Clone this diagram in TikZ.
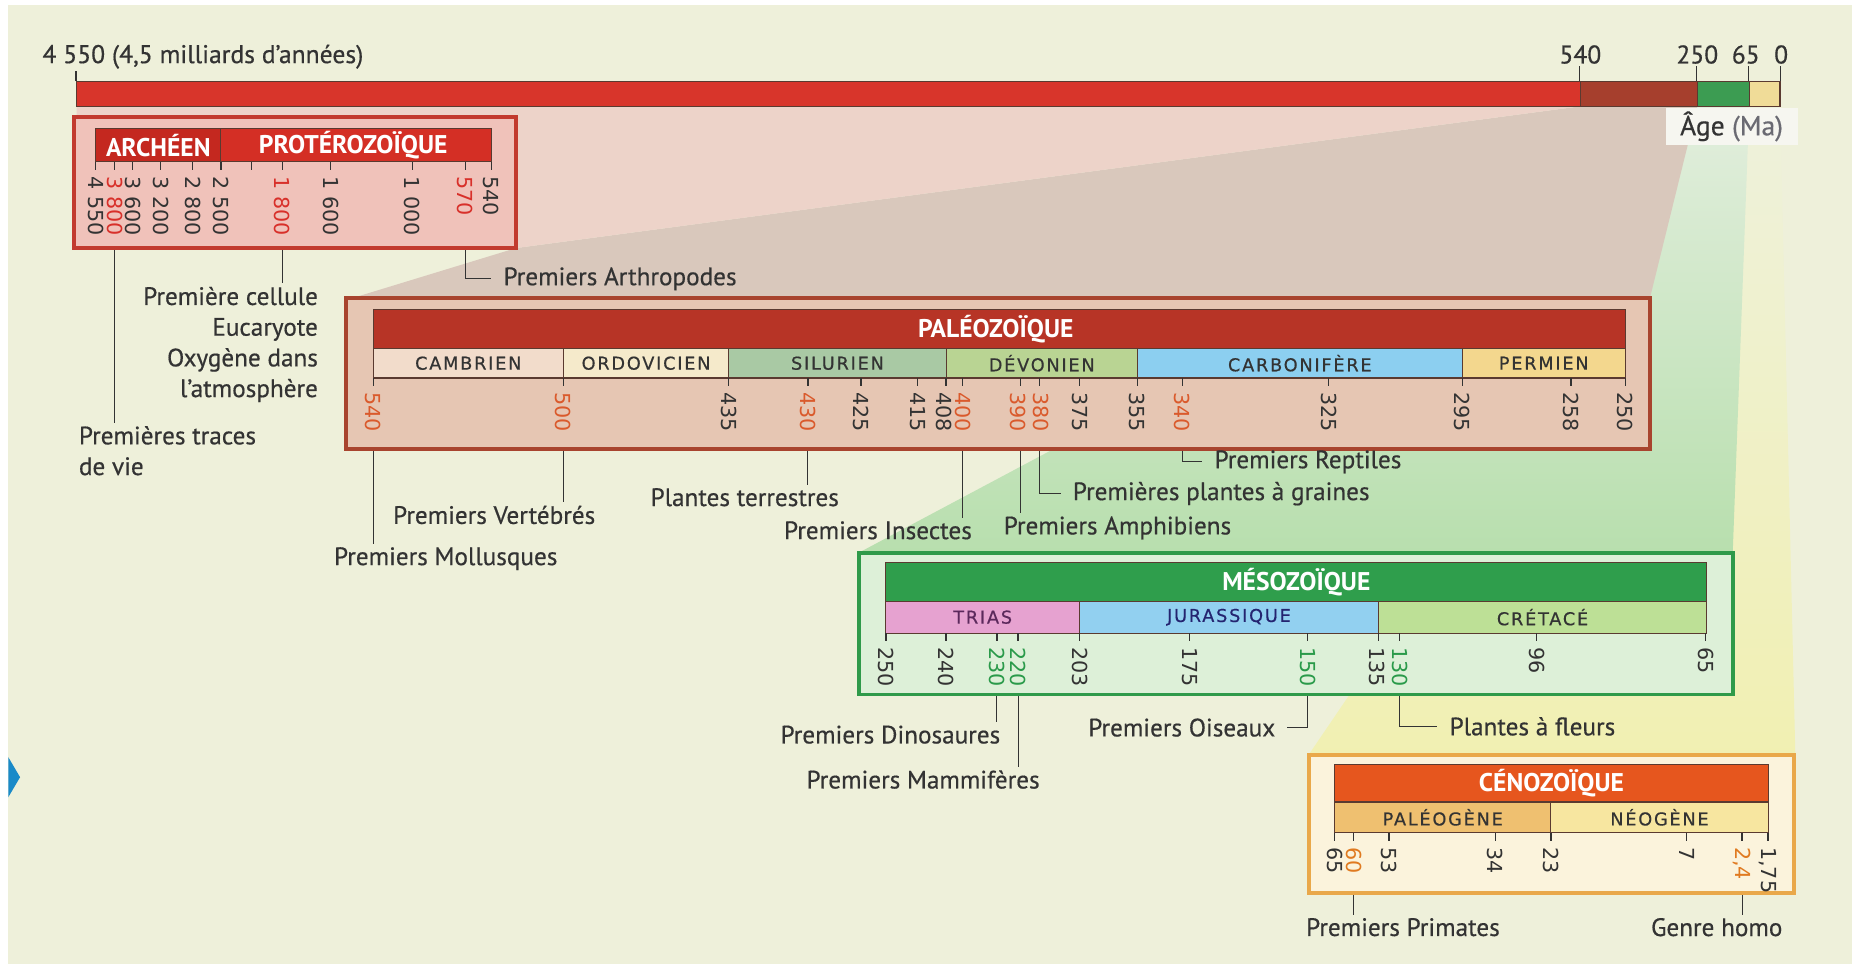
\documentclass[tikz,border=0pt]{standalone}
\usepackage{fontspec}
\setmainfont{PT Sans}
\newfontfamily\lblfont[FakeBold=0.5]{PT Sans}
\newfontfamily\numfont{DejaVu Sans}
\newfontfamily\perfont[LetterSpace=10,FakeBold=0.5]{DejaVu Sans}
\usetikzlibrary{fit}
\definecolor{bg}{HTML}{EEF0DA}
\definecolor{txt}{HTML}{333333}
\definecolor{barred}{HTML}{D8352B}
\definecolor{barbrown}{HTML}{A63F2D}
\definecolor{bargreen}{HTML}{3C9C52}
\definecolor{baryel}{HTML}{F0DC98}
\definecolor{bardk}{HTML}{5E2A20}
\definecolor{shpink}{HTML}{EDD3C9}
\definecolor{shgray}{HTML}{D9C8BC}
\definecolor{shgrtop}{HTML}{E2EEDD}
\definecolor{shgrbot}{HTML}{B8DFAE}
\definecolor{shyetop}{HTML}{EEF1DC}
\definecolor{shyebot}{HTML}{F1F0B2}
\definecolor{prefill}{HTML}{F0C2BA}
\definecolor{preedge}{HTML}{C23A2E}
\definecolor{arch}{HTML}{C4281F}
\definecolor{prot}{HTML}{D42F25}
\definecolor{palfill}{HTML}{E6C6B3}
\definecolor{paledge}{HTML}{A8442E}
\definecolor{palhead}{HTML}{B73426}
\definecolor{cam}{HTML}{F2DCCB}
\definecolor{ord}{HTML}{F5EACB}
\definecolor{sil}{HTML}{A9C9A4}
\definecolor{dev}{HTML}{B9D493}
\definecolor{carb}{HTML}{8CCFF0}
\definecolor{perm}{HTML}{F3D78E}
\definecolor{mesfill}{HTML}{DDF0D8}
\definecolor{mesedge}{HTML}{2F9A4A}
\definecolor{meshead}{HTML}{2F9E4C}
\definecolor{trias}{HTML}{E6A2D0}
\definecolor{jur}{HTML}{92D0F0}
\definecolor{cret}{HTML}{BDE096}
\definecolor{cenfill}{HTML}{FBF3DC}
\definecolor{cenedge}{HTML}{E9A84A}
\definecolor{cenhead}{HTML}{E6561E}
\definecolor{paleo}{HTML}{EFC070}
\definecolor{neo}{HTML}{F7E6A0}
\definecolor{numred}{HTML}{D8302A}
\definecolor{numor}{HTML}{DA5A2C}
\definecolor{numgreen}{HTML}{2A9A4A}
\definecolor{numcen}{HTML}{E07A20}
\definecolor{celldk}{HTML}{5A3A30}
\definecolor{agebg}{HTML}{F6F6F0}
\definecolor{magray}{HTML}{6A6A72}
\definecolor{marker}{HTML}{1A8AC8}
\tikzset{
 cell/.style={inner sep=0pt, draw=celldk, line width=0.6pt},
 tk/.style={draw=txt, line width=0.7pt},
 num/.style={font=\numfont\fontsize{10.5}{11}\selectfont, inner sep=0pt, anchor=west, rotate=-90, text=txt},
 lbl/.style={font=\lblfont\fontsize{12.8}{15.6}\selectfont, text=txt, inner sep=1.5pt},
 elb/.style={lbl, inner xsep=6pt},
 conn/.style={draw=txt, line width=0.6pt},
 per/.style={font=\perfont\fontsize{9}{10}\selectfont, text=txt, inner sep=0pt},
 hd/.style={font=\bfseries\fontsize{13}{14}\selectfont, text=white, inner sep=0pt},
 box/.style={inner sep=0pt, line width=2pt},
 axis/.style={font=\lblfont\fontsize{13}{15}\selectfont, text=txt, inner sep=1pt},
}
\newcommand\Tk[6]{%
 \draw[tk] (#2,#3) -- (#2,#3+7) coordinate (#1);
 \node[num,text=#6] (n#1) at (#4,#3+12) {#5};}
\begin{document}
\begin{tikzpicture}[x=0.6pt,y=-0.6pt]
\useasboundingbox (0,0) rectangle (1568,823);
\fill[white] (0,0) rectangle (1568,823);
\fill[bg] (7,4) rectangle (1568,816);
\fill[marker] (7,641) -- (17,658) -- (7,675) -- cycle;
% zoom shadings
\shade[top color=shyetop, bottom color=shyebot] (1481,90) -- (1507,90) -- (1520,639) -- (1108,639) -- cycle;
\shade[top color=shgrtop, bottom color=shgrbot] (1437,90) -- (1481,90) -- (1467,468) -- (727,468) -- cycle;
\fill[shgray] (1338,90) -- (1437,90) -- (1397,252) -- (293,254) -- (437,210) -- cycle;
\fill[shpink] (65,90) -- (1338,90) -- (437,210) -- (63,210) -- cycle;
% main bar
\node[cell, fill=barred, fit={(65,69)(1338,90)}] (b1) {};
\node[cell, fill=barbrown, fit={(1338,69)(1437,90)}] (b2) {};
\node[cell, fill=bargreen, fit={(1437,69)(1481,90)}] (b3) {};
\node[cell, fill=baryel, fit={(1481,69)(1507,90)}] (b4) {};
\node[axis, anchor=west] (ttl) at (34,48) {4 550 (4,5 milliards d’années)};
\node[axis, anchor=south] (a540) at (1338,56) {540};
\node[axis, anchor=south] (a250) at (1437,56) {250};
\node[axis, anchor=south] (a65) at (1478,56) {65};
\node[axis, anchor=south] (a0) at (1508,56) {0};
\draw[tk] (b1.north west) -- (b1.north west |- ttl.south);
\draw[tk] (b2.north west) -- (b2.north west |- a540.south);
\draw[tk] (b3.north west) -- (b3.north west |- a250.south);
\draw[tk] (b4.north west) -- (b4.north west |- a65.south);
\draw[tk] (b4.north east) -- (b4.north east |- a0.south);
\node[fill=agebg, minimum width=67pt, minimum height=19pt, inner sep=0pt, font=\lblfont\fontsize{14}{16}\selectfont, text=txt] (age) at (1466,107) {Âge \textcolor{magray}{(Ma)}};
% ---------- Precambrian ----------
\node[box, draw=preedge, fill=prefill, fit={(63,99)(437,210)}] (pre) {};
\node[cell, fill=arch, fit={(81,109)(187,137)}] (arch) {};
\node[cell, fill=prot, fit={(187,109)(416,137)}] (prot) {};
\node[hd] (archt) at (arch.center) {ARCHÉEN};
\node[hd] (prott) at (299,123) {PROTÉROZOÏQUE};
\Tk{p4550}{81}{137}{81}{4 550}{txt}
\Tk{p3800}{97}{137}{97}{3 800}{numred}
\Tk{p3600}{112}{137}{113}{3 600}{txt}
\Tk{p3200}{136}{137}{136}{3 200}{txt}
\Tk{p2800}{163}{137}{163}{2 800}{txt}
\Tk{p2500}{187}{137}{187}{2 500}{txt}
\draw[tk] (213,137) -- (213,144) coordinate (p2100);
\Tk{p1800}{239}{137}{239}{1 800}{numred}
\Tk{p1600}{280}{137}{280}{1 600}{txt}
\Tk{p1000}{349}{137}{349}{1 000}{txt}
\Tk{p570}{394}{137}{394}{570}{numred}
\Tk{p540}{416}{137}{416}{540}{txt}
\node[lbl, anchor=north west, align=left] (traces) at (64,358) {Premières traces\\de vie};
\draw[conn] (p3800 |- pre.south) -- (p3800 |- traces.north);
\node[lbl, anchor=north east, align=right] (cell) at (272,240) {Première cellule\\Eucaryote\\Oxygène dans\\l’atmosphère};
\draw[conn] (p1800 |- pre.south) -- (p1800 |- cell.north);
\node[elb, anchor=west] (arthro) at (416,236) {Premiers Arthropodes};
\draw[conn] (p570 |- pre.south) |- (arthro.west);
% ---------- Paleozoic ----------
\node[box, draw=paledge, fill=palfill, fit={(293,252)(1397,380)}] (pal) {};
\node[cell, fill=palhead, fit={(316,262)(1376,295)}] (palh) {};
\node[hd] (palt) at (843,279) {PALÉOZOÏQUE};
\node[cell, fill=cam, fit={(316,295)(477,320)}] (cam) {};
\node[cell, fill=ord, fit={(477,295)(617,320)}] (ord) {};
\node[cell, fill=sil, fit={(617,295)(801,320)}] (sil) {};
\node[cell, fill=dev, fit={(801,295)(963,320)}] (dev) {};
\node[cell, fill=carb, fit={(963,295)(1238,320)}] (carb) {};
\node[cell, fill=perm, fit={(1238,295)(1376,320)}] (perm) {};
\node[per] (camt) at (cam.center) {CAMBRIEN};
\node[per] (ordt) at (ord.center) {ORDOVICIEN};
\node[per] (silt) at (sil.center) {SILURIEN};
\node[per] (devt) at (dev.center) {DÉVONIEN};
\node[per] (carbt) at (carb.center) {CARBONIFÈRE};
\node[per] (permt) at (perm.center) {PERMIEN};
\Tk{q540}{316}{320}{316}{540}{numor}
\Tk{q500}{477}{320}{477}{500}{numor}
\Tk{q435}{617}{320}{617}{435}{txt}
\Tk{q430}{684}{320}{684}{430}{numor}
\Tk{q425}{729}{320}{729}{425}{txt}
\Tk{q415}{777}{320}{777}{415}{txt}
\Tk{q408}{801}{320}{799}{408}{txt}
\Tk{q400}{815}{320}{815}{400}{numor}
\Tk{q390}{864}{320}{862}{390}{numor}
\Tk{q380}{880}{320}{881}{380}{numor}
\Tk{q375}{914}{320}{914}{375}{txt}
\Tk{q355}{963}{320}{963}{355}{txt}
\Tk{q340}{1001}{320}{1001}{340}{numor}
\Tk{q325}{1125}{320}{1125}{325}{txt}
\Tk{q295}{1238}{320}{1238}{295}{txt}
\Tk{q258}{1330}{320}{1330}{258}{txt}
\Tk{q250}{1376}{320}{1376}{250}{txt}
\node[lbl, anchor=west] (moll) at (280,473) {Premiers Mollusques};
\draw[conn] (q540 |- pal.south) -- (q540 |- moll.north);
\node[lbl, anchor=west] (vert) at (330,436) {Premiers Vertébrés};
\draw[conn] (q500 |- pal.south) -- (q500 |- vert.north);
\node[lbl, anchor=west] (terr) at (548,421) {Plantes terrestres};
\draw[conn] (q430 |- pal.south) -- (q430 |- terr.north);
\node[lbl, anchor=west] (insect) at (661,449) {Premiers Insectes};
\draw[conn] (q400 |- pal.south) -- (q400 |- insect.north);
\node[lbl, anchor=west] (amph) at (847,447) {Premiers Amphibiens};
\draw[conn] (q390 |- pal.south) -- (q390 |- amph.north);
\node[elb, anchor=west] (graines) at (898,418) {Premières plantes à graines};
\draw[conn] (q380 |- pal.south) |- (graines.west);
\node[elb, anchor=west] (rept) at (1018,391) {Premiers Reptiles};
\draw[conn] (q340 |- pal.south) |- (rept.west);
% ---------- Mesozoic ----------
\node[box, draw=mesedge, fill=mesfill, fit={(727,468)(1467,588)}] (mes) {};
\node[cell, fill=meshead, fit={(750,476)(1445,509)}] (mesh) {};
\node[hd] (mest) at (mesh.center) {MÉSOZOÏQUE};
\node[cell, fill=trias, fit={(750,509)(914,536)}] (tri) {};
\node[cell, fill=jur, fit={(914,509)(1167,536)}] (jur) {};
\node[cell, fill=cret, fit={(1167,509)(1445,536)}] (cre) {};
\node[per, text=txt!80!magenta] (trit) at (tri.center) {TRIAS};
\node[per, text=txt!70!blue] (jurt) at (jur.center) {JURASSIQUE};
\node[per] (cret) at (cre.center) {CRÉTACÉ};
\Tk{m250}{750}{536}{750}{250}{txt}
\Tk{m240}{801}{536}{801}{240}{txt}
\Tk{m230}{844}{536}{844}{230}{numgreen}
\Tk{m220}{862}{536}{862}{220}{numgreen}
\Tk{m203}{914}{536}{914}{203}{txt}
\Tk{m175}{1007}{536}{1007}{175}{txt}
\Tk{m150}{1107}{536}{1107}{150}{numgreen}
\Tk{m135}{1167}{536}{1166}{135}{txt}
\Tk{m130}{1185}{536}{1185}{130}{numgreen}
\Tk{m96}{1301}{536}{1301}{96}{txt}
\Tk{m65}{1444}{536}{1444}{65}{txt}
\node[lbl, anchor=west] (dino) at (658,622) {Premiers Dinosaures};
\draw[conn] (m230 |- mes.south) -- (m230 |- dino.north);
\node[lbl, anchor=west] (mamm) at (680,660) {Premiers Mammifères};
\draw[conn] (m220 |- mes.south) -- (m220 |- mamm.north);
\node[elb, anchor=east] (ois) at (1090,616) {Premiers Oiseaux};
\draw[conn] (m150 |- mes.south) |- (ois.east);
\node[elb, anchor=west] (fleurs) at (1217,615) {Plantes à fleurs};
\draw[conn] (m130 |- mes.south) |- (fleurs.west);
% ---------- Cenozoic ----------
\node[box, draw=cenedge, fill=cenfill, fit={(1108,639)(1519,756)}] (cen) {};
\node[cell, fill=cenhead, fit={(1130,647)(1497,679)}] (cenh) {};
\node[hd] (cent) at (cenh.center) {CÉNOZOÏQUE};
\node[cell, fill=paleo, fit={(1130,679)(1313,705)}] (pg) {};
\node[cell, fill=neo, fit={(1313,679)(1497,705)}] (ng) {};
\node[per] (pgt) at (pg.center) {PALÉOGÈNE};
\node[per] (ngt) at (ng.center) {NÉOGÈNE};
\Tk{c65}{1130}{705}{1130}{65}{txt}
\Tk{c60}{1146}{705}{1146}{60}{numcen}
\Tk{c53}{1176}{705}{1176}{53}{txt}
\Tk{c34}{1266}{705}{1266}{34}{txt}
\Tk{c23}{1313}{705}{1313}{23}{txt}
\Tk{c7}{1428}{705}{1428}{7}{txt}
\Tk{c24}{1475}{705}{1475}{2,4}{numcen}
\Tk{c175}{1497}{705}{1497}{1,75}{txt}
\node[lbl, anchor=west] (prim) at (1103,785) {Premiers Primates};
\draw[conn] (c60 |- cen.south) -- (c60 |- prim.north);
\node[lbl, anchor=west] (homo) at (1395,785) {Genre homo};
\draw[conn] (c24 |- cen.south) -- (c24 |- homo.north);
\end{tikzpicture}
\end{document}
